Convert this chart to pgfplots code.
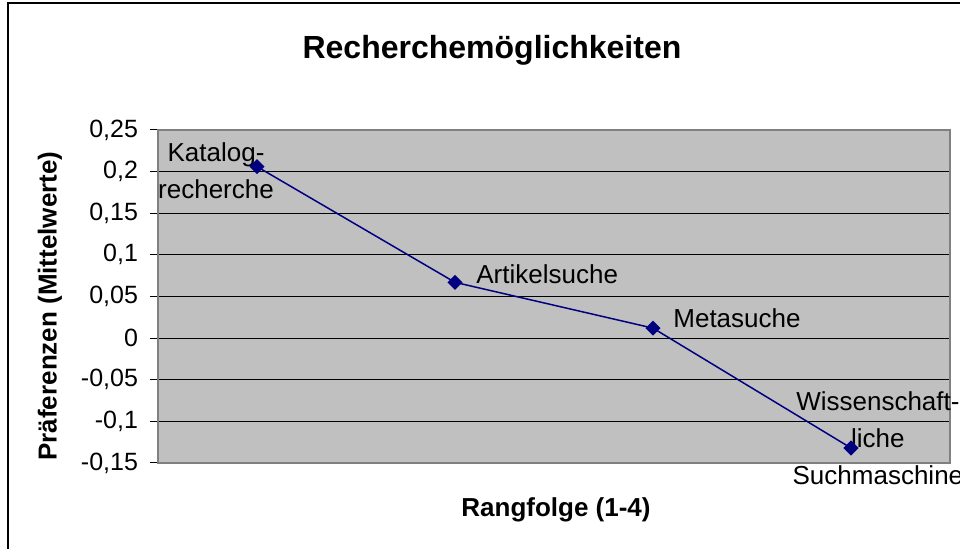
\documentclass[border=0pt]{standalone}
\usepackage{pgfplots}
\pgfplotsset{compat=1.18}
\usepackage{fontspec}
\setmainfont{Liberation Sans}
\definecolor{plotgray}{HTML}{C0C0C0}
\definecolor{bordergray}{HTML}{808080}
\definecolor{navyline}{HTML}{000080}
\begin{document}
\begin{tikzpicture}
\useasboundingbox (0,0) rectangle (480pt,274.5pt);
\fill[white] (0,0) rectangle (480pt,274.5pt);
\draw[line width=1pt] (4pt,-5pt) -- (4pt,273pt) -- (490pt,273pt);
\begin{axis}[
  at={(79pt,43pt)}, anchor=south west, scale only axis,
  width=396pt, height=166.5pt,
  xmin=0.5, xmax=4.5, ymin=-0.15, ymax=0.25,
  xtick=\empty,
  ytick={-0.15,-0.1,-0.05,0,0.05,0.1,0.15,0.2,0.25},
  ymajorgrids, major grid style={black, line width=0.5pt},
  axis background/.style={fill=plotgray},
  axis line style={bordergray, line width=0.9pt},
  tick style={black, line width=0.5pt}, major tick length=4pt,
  tick align=outside, ytick pos=left,
  /pgf/number format/.cd, use comma, fixed, precision=2, assume math mode=true,
  /pgfplots/.cd,
  yticklabel style={font=\fontsize{12.5}{14}\selectfont, xshift=-2.5pt},
  clip=false,
]
\addplot[navyline, line width=0.75pt, mark=square*, mark size=2.3pt,
  mark options={fill=navyline, solid, rotate=45}]
  coordinates {(1,0.206) (2,0.067) (3,0.012) (4,-0.132)};
\node[font=\fontsize{13}{18.5}\selectfont, align=center] at (axis cs:0.793,0.2007) {Katalog-\\recherche};
\node[font=\fontsize{13}{18.5}\selectfont, anchor=west, inner sep=0pt] at (axis cs:2.106,0.077) {Artikelsuche};
\node[font=\fontsize{13}{18.5}\selectfont, anchor=west, inner sep=0pt] at (axis cs:3.101,0.0241) {Metasuche};
\node[font=\fontsize{13}{18.5}\selectfont, align=center] at (axis cs:4.136,-0.120) {Wissenschaft-\\liche\\Suchmaschine};
\end{axis}
\node[font=\bfseries\fontsize{16}{19}\selectfont] at (246pt,249.5pt) {Recherchemöglichkeiten};
\node[font=\bfseries\fontsize{13}{15}\selectfont] at (278pt,19.5pt) {Rangfolge (1-4)};
\node[font=\bfseries\fontsize{13}{15}\selectfont, rotate=90] at (25pt,121.5pt) {Präferenzen (Mittelwerte)};
\end{tikzpicture}
\end{document}
